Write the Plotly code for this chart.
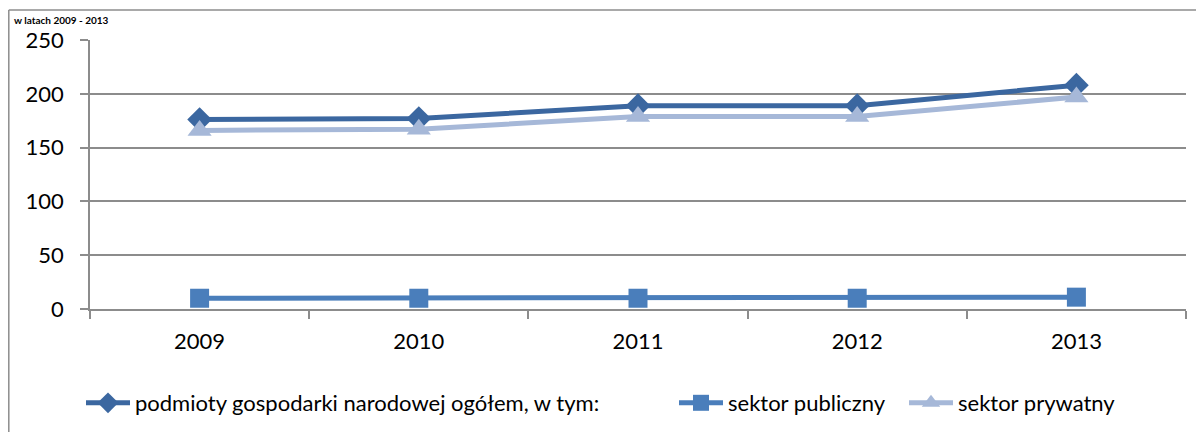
import plotly.graph_objects as go

years = ["2009", "2010", "2011", "2012", "2013"]
ogolem = [176, 177, 189, 189, 208]
publiczny = [10, 10, 10, 10, 11]
prywatny = [166, 167, 179, 179, 197]

names = ["podmioty gospodarki narodowej ogółem, w tym:", "sektor publiczny", "sektor prywatny"]
y_ticks = [0, 50, 100, 150, 200, 250]
title_text = "w latach 2009 - 2013"

FONT = "Lato"
OFF = 8  # browser body margin
W, H = 1204 - OFF, 432 - OFF
L, R, T, B = 90 - OFF, 1204 - 1186, 40 - OFF, 432 - 309
pw = W - L - R
ph = H - T - B

def px_x(p):  # screen px -> paper x
    return (p - OFF - L) / pw

def px_y(p):  # screen px -> paper y
    return (H - B - (p - OFF)) / ph

fig = go.Figure()
fig.add_trace(go.Scatter(x=years, y=ogolem, name=names[0], mode="lines+markers",
                         line=dict(color="#3B67A0", width=5), legend="legend",
                         marker=dict(symbol="diamond", size=19, color="#3B67A0")))
fig.add_trace(go.Scatter(x=years, y=publiczny, name=names[1], mode="lines+markers",
                         line=dict(color="#4A7EBB", width=5), legend="legend2",
                         marker=dict(symbol="square", size=19, color="#4A7EBB")))
fig.add_trace(go.Scatter(x=years, y=prywatny, name=names[2], mode="lines+markers",
                         line=dict(color="#A6B8D8", width=5), legend="legend3",
                         marker=dict(symbol="triangle-up", size=21, color="#A6B8D8")))

def leg(center_px):
    return dict(orientation="h", x=px_x(center_px - 25), xanchor="left",
                y=px_y(403), yanchor="middle", itemwidth=44,
                font=dict(family=FONT, size=22, color="black"),
                bgcolor="rgba(0,0,0,0)", borderwidth=0)

fig.update_layout(
    width=W, height=H,
    margin=dict(l=L, r=R, t=T, b=B, autoexpand=False),
    paper_bgcolor="white", plot_bgcolor="white",
    font=dict(family=FONT, size=22, color="black"),
    showlegend=True,
    legend=leg(106), legend2=leg(699), legend3=leg(929),
    xaxis=dict(type="category", range=[-0.5, 4.5], showgrid=False, automargin=False,
               showline=True, linecolor="#8C8C8C", linewidth=1.5,
               ticks="outside", tickson="boundaries", ticklen=8, tickcolor="#8C8C8C",
               tickwidth=1.5, ticklabelstandoff=12,
               tickfont=dict(family=FONT, size=22), fixedrange=True),
    yaxis=dict(range=[0, 250], tickvals=y_ticks, showgrid=True, gridcolor="#8C8C8C",
               gridwidth=1.5, showline=True, linecolor="#8C8C8C", linewidth=1.5,
               automargin=False, ticklabelstandoff=12,
               ticks="outside", ticklen=8, tickcolor="#8C8C8C", tickwidth=1.5,
               zeroline=False, tickfont=dict(family=FONT, size=22), fixedrange=True),
    shapes=[
        dict(type="line", xref="paper", yref="paper", x0=px_x(8.8), x1=px_x(8.8),
             y0=px_y(10), y1=px_y(H + 20), line=dict(color="#8C8C8C", width=1.5)),
        dict(type="line", xref="paper", yref="paper", x0=px_x(8.8), x1=px_x(W + 20),
             y0=px_y(10), y1=px_y(10), line=dict(color="#8C8C8C", width=1.5)),
    ],
    annotations=[
        dict(text="<b>" + title_text + "</b>", xref="paper", yref="paper",
             x=px_x(13), y=px_y(13), xanchor="left", yanchor="top", showarrow=False,
             font=dict(family=FONT, size=10, color="black"), borderpad=0)
    ],
)

fig.write_html("out.html")
